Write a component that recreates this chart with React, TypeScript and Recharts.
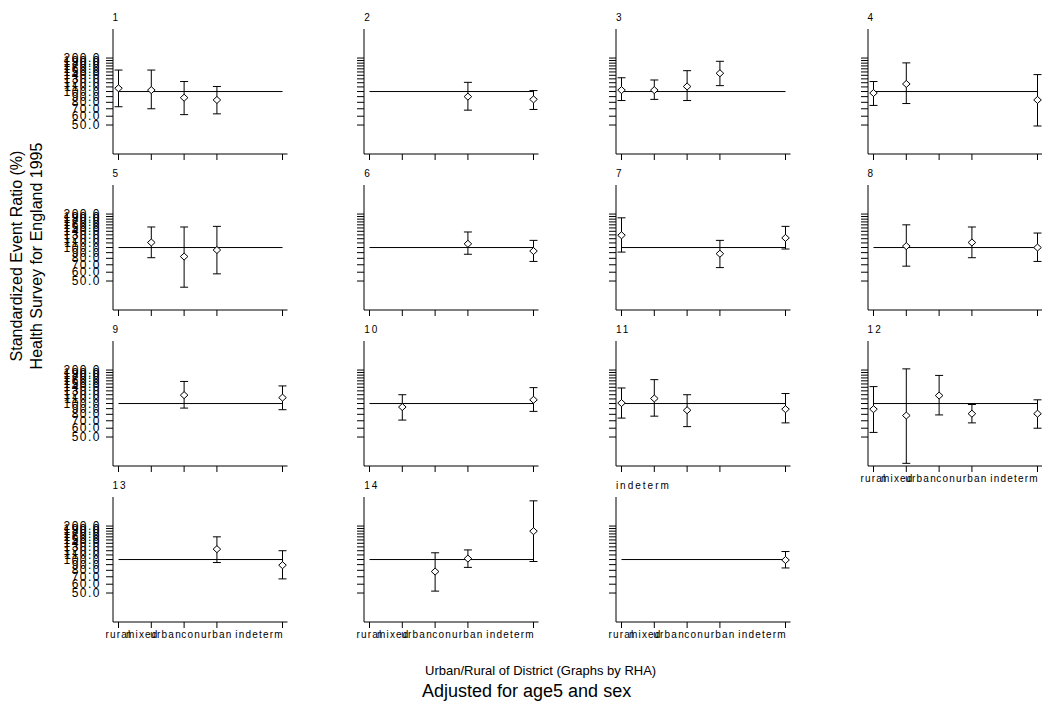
import React from "react";
import {
  ComposedChart,
  Scatter,
  ErrorBar,
  XAxis,
  YAxis,
  ReferenceLine,
} from "recharts";

// district types and where they sit on the x axis (indeterm is pushed out to 6)
const categories = ["rural", "mixed", "urban", "conurban", "indeterm"];
const categoryPos = [1, 2, 3, 4, 6];

const panelTitles = ["1", "2", "3", "4", "5", "6", "7", "8", "9", "10", "11", "12", "13", "14", "indeterm"];

// log axis ticks 50..200
const yTicks = [50, 60, 70, 80, 90, 100, 110, 120, 130, 140, 150, 160, 170, 180, 190, 200];

// SER per RHA, one value per category (null = no district of that type)
const ratio: (number | null)[][] = [
  [107, 103, 88, 84, null],
  [null, null, null, 90, 85],
  [103, 103, 111, 146, null],
  [97, 117, null, null, 84],
  [null, 111, 83, 95, null],
  [null, null, null, 108, 93],
  [129, null, null, 88, 122],
  [null, 103, null, 111, 100],
  [null, null, 119, null, 113],
  [null, 93, null, null, 108],
  [101, 111, 87, null, 89],
  [89, 78, 118, 81, 81],
  [null, null, null, 124, 89],
  [null, null, 78, 102, 180],
  [null, null, null, null, 99],
];

const lowerCI: (number | null)[][] = [
  [73, 70, 62, 63, null],
  [null, null, null, 68, 69],
  [83, 85, 83, 113, null],
  [75, 78, null, null, 49],
  [null, 81, 44, 58, null],
  [null, null, null, 87, 75],
  [91, null, null, 66, 97],
  [null, 68, null, 81, 75],
  [null, null, 91, null, 88],
  [null, 71, null, null, 85],
  [74, 77, 62, null, 67],
  [55, 29, 79, 67, 60],
  [null, null, null, 94, 67],
  [null, null, 52, 85, 96],
  [null, null, null, null, 84],
];

const upperCI: (number | null)[][] = [
  [156, 156, 123, 111, null],
  [null, null, null, 121, 102],
  [133, 127, 154, 187, null],
  [123, 181, null, null, 142],
  [null, 153, 153, 155, null],
  [null, null, null, 138, 116],
  [185, null, null, 116, 155],
  [null, 160, null, 153, 135],
  [null, null, 158, null, 144],
  [null, 120, null, null, 139],
  [138, 164, 120, null, 123],
  [142, 205, 179, 98, 108],
  [null, null, null, 160, 120],
  [null, null, 115, 122, 337],
  [null, null, null, null, 118],
];

const FONT = "'Liberation Sans', Arial, Helvetica, sans-serif";

// layout of the 4x4 grid
const AXIS_W = 75;
const PLOT_W = 174.5;
const PLOT_H = 125;
const TOP = 20;
const XAXIS_H = 25;
const colX = (c: number) => 112.5 + 251.7 * c; // y-axis line x
const plotTop = (r: number) => 29 + 155.9 * r;

// stata-ish label placement, labels crowd to the left
const labelNudge = [0, -9, -18, -10, -23];

function Diamond(props: any) {
  const { cx, cy } = props;
  if (cx == null || cy == null) return null;
  return (
    <path
      d={`M${cx},${cy - 3.5}L${cx + 3.8},${cy}L${cx},${cy + 3.5}L${cx - 3.8},${cy}Z`}
      fill="#fff"
      stroke="#000"
      strokeWidth={1}
    />
  );
}

function XTick(props: any) {
  const { x, y, payload, show } = props;
  if (!show) return null;
  const i = categoryPos.indexOf(payload.value);
  return (
    <text
      x={x + labelNudge[i]}
      y={y + 8}
      textAnchor="middle"
      fontSize={10}
      letterSpacing={1.2}
      fill="#000"
      fontFamily={FONT}
    >
      {categories[i]}
    </text>
  );
}

function YTick(props: any) {
  const { x, y, payload, show } = props;
  if (!show) return null;
  return (
    <text
      x={x}
      y={y + 4}
      textAnchor="end"
      fontSize={12}
      letterSpacing={1.5}
      fill="#000"
      fontFamily={FONT}
    >
      {payload.value.toFixed(1)}
    </text>
  );
}

function Panel({ idx }: { idx: number }) {
  const col = idx % 4;
  const row = Math.floor(idx / 4);
  const data = categoryPos
    .map((pos, i) => {
      const v = ratio[idx][i];
      if (v == null) return null;
      return {
        x: pos,
        ratio: v,
        err: [v - (lowerCI[idx][i] as number), (upperCI[idx][i] as number) - v],
      };
    })
    .filter(Boolean);
  // x labels only where nothing sits below
  const bottom = idx >= 11;

  return (
    <div
      style={{
        position: "absolute",
        left: colX(col) - AXIS_W,
        top: plotTop(row) - TOP,
      }}
    >
      <ComposedChart
        width={AXIS_W + PLOT_W + 10}
        height={TOP + PLOT_H + XAXIS_H}
        data={data as any[]}
        margin={{ top: TOP, right: 10, bottom: 0, left: 0 }}
      >
        <XAxis
          dataKey="x"
          type="number"
          domain={[0.832, 6.152]}
          allowDataOverflow
          ticks={categoryPos}
          interval={0}
          height={XAXIS_H}
          tickSize={6}
          stroke="#000"
          tick={<XTick show={bottom} />}
        />
        <YAxis
          dataKey="ratio"
          type="number"
          scale="log"
          domain={[27.44, 365]}
          allowDataOverflow
          ticks={yTicks}
          interval={0}
          width={AXIS_W}
          tickSize={7}
          tickMargin={5}
          stroke="#000"
          tick={<YTick show={col === 0} />}
        />
        <ReferenceLine
          segment={[
            { x: 1, y: 100 },
            { x: 6, y: 100 },
          ]}
          stroke="#000"
          strokeWidth={1}
        />
        <Scatter dataKey="ratio" shape={<Diamond />} isAnimationActive={false}>
          <ErrorBar
            dataKey="err"
            direction="y"
            width={4}
            stroke="#000"
            strokeWidth={1}
            isAnimationActive={false}
          />
        </Scatter>
      </ComposedChart>
    </div>
  );
}

export default function App() {
  return (
    <div
      style={{
        position: "absolute",
        left: 0,
        top: 0,
        width: 1042,
        height: 704,
        overflow: "hidden",
        background: "#fff",
        fontFamily: FONT,
      }}
    >
      {panelTitles.map((_, i) => (
        <Panel key={i} idx={i} />
      ))}
      <svg
        width={1042}
        height={704}
        style={{ position: "absolute", left: 0, top: 0, pointerEvents: "none" }}
      >
        {panelTitles.map((t, i) => (
          <text
            key={t}
            x={colX(i % 4)}
            y={plotTop(Math.floor(i / 4)) - 8}
            fontSize={10}
            letterSpacing={2}
            fill="#000"
            fontFamily={FONT}
          >
            {t}
          </text>
        ))}
        <g transform="translate(22,256) rotate(-90)">
          <text x={0} y={0} textAnchor="middle" fontSize={16} fill="#000" fontFamily={FONT}>
            Standardized Event Ratio (%)
          </text>
          <text x={0} y={20} textAnchor="middle" fontSize={16} fill="#000" fontFamily={FONT}>
            Health Survey for England 1995
          </text>
        </g>
        <text x={425} y={675} fontSize={13} fill="#000" fontFamily={FONT}>
          Urban/Rural of District (Graphs by RHA)
        </text>
        <text x={422} y={697} fontSize={18} fill="#000" fontFamily={FONT}>
          Adjusted for age5 and sex
        </text>
      </svg>
    </div>
  );
}
